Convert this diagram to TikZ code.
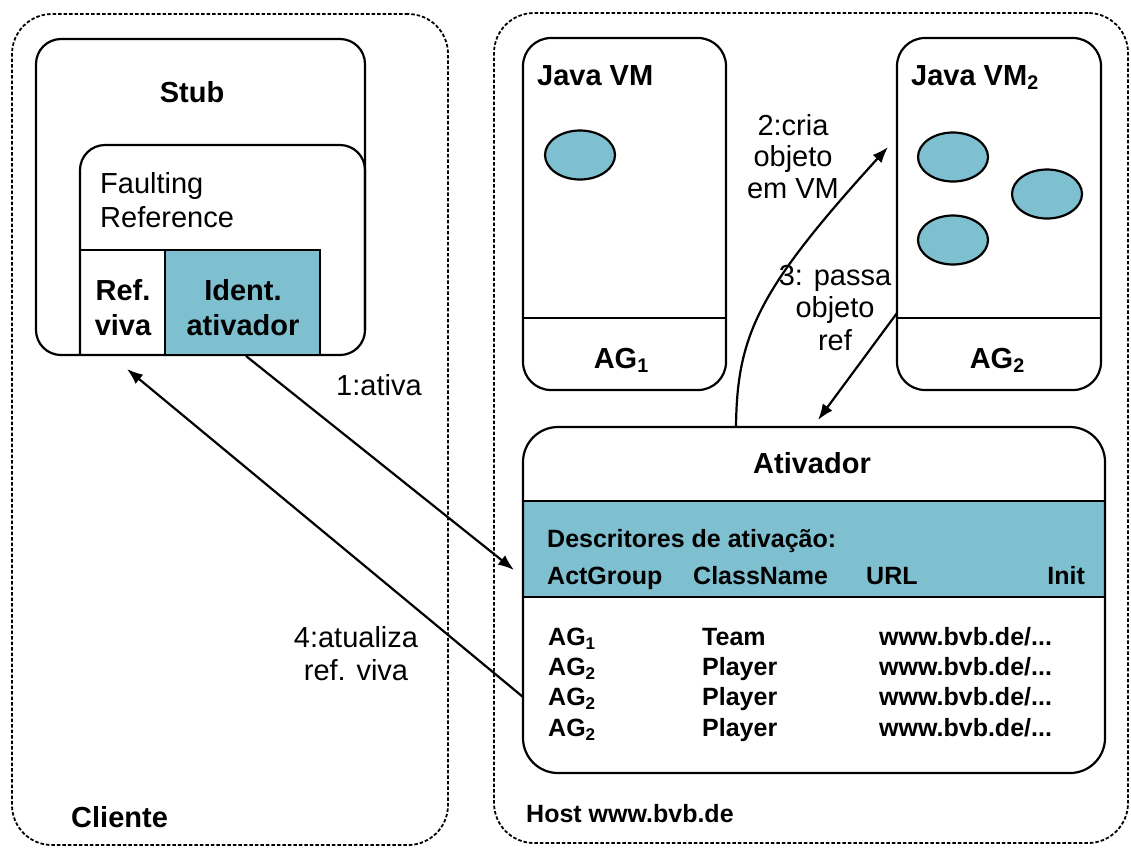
\documentclass[tikz,border=0pt]{standalone}
\usepackage{fontspec}
\setmainfont{Liberation Sans}
\usetikzlibrary{arrows.meta,shapes.geometric}
\definecolor{objblue}{RGB}{126,192,208}
\newcommand\lowsub[1]{\raisebox{-0.32ex}{\scalebox{0.68}{#1}}}
\begin{document}
\begin{tikzpicture}[x=1pt,y=-1pt,
  groupbox/.style={draw, line width=1.8pt, dash pattern=on 3.5pt off 2pt, rounded corners=40pt, anchor=north west, inner sep=0pt, outer sep=0pt},
  boxn/.style={draw, line width=2.2pt, rounded corners=#1, anchor=north west, inner sep=0pt, outer sep=0pt},
  boxn/.default=28pt,
  cell/.style={draw, line width=2.2pt, anchor=north west, inner sep=0pt, outer sep=0pt},
  big/.style={font=\fontsize{29}{32}\selectfont, inner sep=0pt, align=center},
  bigb/.style={font=\bfseries\fontsize{29}{35}\selectfont, inner sep=0pt, align=center},
  tab/.style={font=\bfseries\fontsize{25}{30}\selectfont, inner sep=0pt, anchor=base west},
  conn/.style={line width=2.2pt, -{Latex[length=16pt,width=12pt]}},
  obj/.style={ellipse, draw, line width=2.2pt, fill=objblue, inner sep=0pt, minimum width=70pt, minimum height=49pt}
]
\useasboundingbox (0,0) rectangle (1131,847);

% groups
\node[groupbox, minimum width=436pt, minimum height=831pt] (client) at (12,14) {};
\node[groupbox, minimum width=634pt, minimum height=830pt] (host) at (494,13) {};

% stub
\node[boxn=25pt, minimum width=329pt, minimum height=316pt] (stub) at (36,39) {};
\draw[line width=2.2pt, rounded corners=25pt] (80,355) -- (80,145) -- (365,145) -- (365,330);
\node[cell, minimum width=85pt, minimum height=105pt] (refviva) at (80,250) {};
\node[cell, fill=objblue, minimum width=155pt, minimum height=105pt] (ident) at (165,250) {};

\node[bigb, anchor=base] (stubt) at (192,102) {Stub};
\node[big, anchor=base west, align=left, font=\fontsize{29}{34}\selectfont] (fault) at (100,227) {Faulting\\Reference};
\node[bigb, anchor=base] (refvivat) at (123,335) {Ref.\\viva};
\node[bigb, anchor=base] (identt) at (243,335) {Ident.\\ativador};

% Java VMs
\node[boxn, minimum width=203pt, minimum height=352pt] (vm1) at (523,38) {};
\draw[line width=2.2pt] (523,318) -- (726,318);
\node[boxn, minimum width=204pt, minimum height=352pt] (vm2) at (897,38) {};
\draw[line width=2.2pt] (897,318) -- (1101,318);
\node[bigb, anchor=base west] (vm1t) at (537,85) {Java VM};
\node[bigb, anchor=base west] (vm2t) at (911,85) {Java VM\lowsub{2}};
\node[bigb, anchor=base] (ag1) at (621,368) {AG\lowsub{1}};
\node[bigb, anchor=base] (ag2) at (997,368) {AG\lowsub{2}};
\node[obj] (o1) at (580,155) {};
\node[obj] (o2) at (953,157) {};
\node[obj] (o3) at (1047,194) {};
\node[obj] (o4) at (953,240) {};

% Ativador
\fill[objblue] (523,501) rectangle (1105,597);
\draw[line width=2.2pt] (523,501) -- (1105,501);
\draw[line width=2.2pt] (523,597) -- (1105,597);
\node[boxn=35pt, minimum width=582pt, minimum height=346pt] (ativ) at (523,427) {};
\node[bigb, anchor=base] (ativt) at (812,473) {Ativador};
\node[tab] (desc) at (547,547) {Descritores de ativação:};
\node[tab] (h1) at (547,584) {ActGroup};
\node[tab] (h2) at (693,584) {ClassName};
\node[tab] (h3) at (866,584) {URL};
\node[tab, anchor=base east] (h4) at (1085,584) {Init};
\node[tab] (r1a) at (548,645) {AG\lowsub{1}};
\node[tab] (r1b) at (702,645) {Team};
\node[tab] (r1c) at (879,645) {www.bvb.de/...};
\node[tab] (r2a) at (548,675) {AG\lowsub{2}};
\node[tab] (r2b) at (702,675) {Player};
\node[tab] (r2c) at (879,675) {www.bvb.de/...};
\node[tab] (r3a) at (548,705) {AG\lowsub{2}};
\node[tab] (r3b) at (702,705) {Player};
\node[tab] (r3c) at (879,705) {www.bvb.de/...};
\node[tab] (r4a) at (548,736) {AG\lowsub{2}};
\node[tab] (r4b) at (702,736) {Player};
\node[tab] (r4c) at (879,736) {www.bvb.de/...};

\node[tab] (hostt) at (526,822) {Host www.bvb.de};
\node[bigb, anchor=base west] (clientt) at (71,827) {Cliente};

% connectors
\coordinate (a1s) at (246,356);
\coordinate (a1e) at (514,570);
\draw[conn] (a1s) -- (a1e);
\coordinate (a4s) at (523,697);
\coordinate (a4e) at (127,369);
\draw[conn] (a4s) -- (a4e);
\coordinate (a2s) at (736,427);
\coordinate (a2e) at (888,147);
\draw[conn] (a2s) .. controls (737,335) and (758,290) .. (a2e);
\coordinate (a3s) at (897,313);
\coordinate (a3e) at (818,420);
\draw[conn] (a3s) -- (a3e);

% labels
\node[big, anchor=base west] (l1) at (336,395) {1:ativa};
\node[big, anchor=base, font=\fontsize{29}{33}\selectfont] (l4) at (356,680) {4:atualiza\\ref. viva};
\node[big, anchor=base, font=\fontsize{29}{31.5}\selectfont] (l2) at (793,198) {2:cria\\objeto\\em VM};
\node[big, anchor=base, font=\fontsize{29}{32.5}\selectfont] (l3) at (835,350) {3: passa\\objeto\\ref};
\end{tikzpicture}
\end{document}
